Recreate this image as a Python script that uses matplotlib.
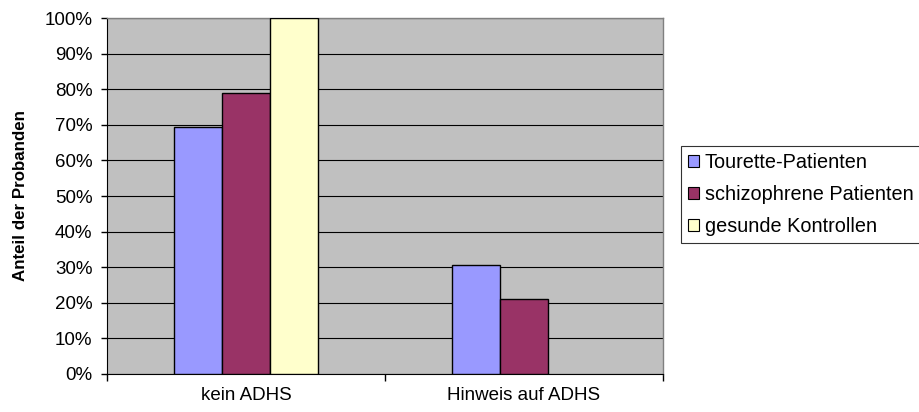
import numpy as np
import matplotlib.pyplot as plt
from matplotlib.ticker import PercentFormatter, FixedLocator

plt.rcParams['font.family'] = ['Liberation Sans', 'DejaVu Sans']

categories = ["kein ADHS", "Hinweis auf ADHS"]
series_names = ["Tourette-Patienten", "schizophrene Patienten", "gesunde Kontrollen"]
tourette = [69.4, 30.6]
schizo = [79.0, 21.0]
gesund = [100.0, 0.0]
colors = ["#9999FF", "#993366", "#FFFFCC"]

fs = 13.5

fig = plt.figure(figsize=(9.19, 4.12), dpi=100)
ax = fig.add_axes([107 / 919, 38 / 412, 556 / 919, 356 / 412])
ax.set_facecolor("#C0C0C0")

x = np.arange(len(categories))
w = 48 / 278
for i, (vals, name, col) in enumerate(zip([tourette, schizo, gesund], series_names, colors)):
    bars = ax.bar(x + (i - 1) * w, vals, width=w, color=col, edgecolor="black",
                  linewidth=1.0, label=name, zorder=3)
    # Excel draws nothing for a zero-height bar
    for b in bars:
        if b.get_height() == 0:
            b.set_visible(False)

ax.set_xlim(-0.5, 1.5)
ax.set_ylim(0, 100)
ax.set_yticks(np.arange(0, 101, 10))
ax.yaxis.set_major_formatter(PercentFormatter(decimals=0))
ax.grid(axis="y", color="black", linewidth=0.8, zorder=1)

ax.set_xticks(x)
ax.set_xticklabels(categories, fontsize=fs)
ax.tick_params(axis="x", length=0, pad=9)
ax.xaxis.set_minor_locator(FixedLocator([-0.5, 0.5, 1.5]))
ax.tick_params(axis="x", which="minor", length=5, width=1, color="black", direction="out")
ax.tick_params(axis="y", labelsize=fs, length=4.5, width=1, direction="out", pad=6)

for s in ["top", "right"]:
    ax.spines[s].set_color("#808080")
    ax.spines[s].set_linewidth(1)
ax.spines["left"].set_color("black")
ax.spines["bottom"].set_color("black")

ax.set_ylabel("Anteil der Probanden", fontsize=12.2, fontweight="bold", labelpad=12)

leg = ax.legend(loc="upper left", bbox_to_anchor=(681 / 919, 266 / 412),
                bbox_transform=fig.transFigure, fontsize=14.3, frameon=True,
                fancybox=False, edgecolor="black", handlelength=0.55,
                handleheight=0.55, handletextpad=0.3, borderpad=0.35,
                labelspacing=0.65, borderaxespad=0)
leg.get_frame().set_linewidth(0.8)
for h in leg.legend_handles:
    h.set_linewidth(0.8)

fig.savefig("out.png", dpi=100)
